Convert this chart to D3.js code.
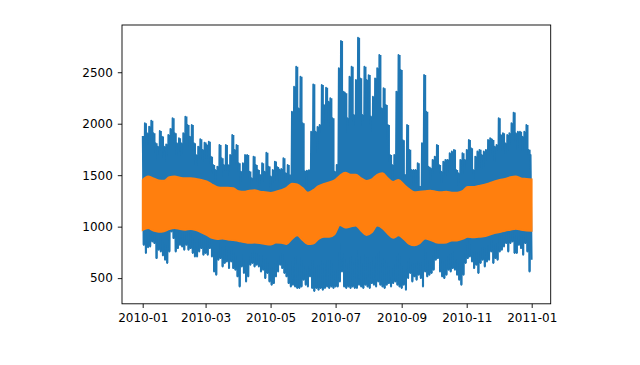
<html>
<script src='https://d3js.org/d3.v7.min.js'></script>
<style>
    body { margin: 0; background: white; }
    text { font-family: 'DejaVu Sans', sans-serif; }
</style>

<body>
    <div id="chart"></div>
    <script>
        const blueHigh = [
            1880, 2005, 1908, 1972, 2030, 1908, 1811, 1778, 1930, 1875,
            1778, 1800, 1891, 1950, 2053, 1908, 1811, 1859, 1811, 1908,
            2069, 1988, 1875, 1988, 1811, 1697, 1778, 1850, 1746, 1817,
            1794, 1826, 1680, 1600, 1551, 1584, 1794, 1665, 1600, 1794,
            1600, 1697, 1891, 1746, 1794, 1616, 1535, 1616, 1697, 1697,
            1535, 1471, 1681, 1600, 1551, 1503, 1616, 1535, 1719, 1584,
            1487, 1551, 1632, 1580, 1555, 1560, 1665, 1520, 1600, 1500,
            2117, 2360, 2554, 2150, 2457, 2005, 1540, 1545, 1550, 1923,
            2383, 1923, 1970, 1988, 2377, 2183, 2350, 2215, 2248, 2053,
            1535, 1600, 2539, 2804, 2312, 2296, 2053, 2457, 2554, 2085,
            2425, 2836, 2441, 2085, 2554, 2425, 2473, 2070, 2263, 2441,
            2539, 2668, 2150, 2345, 2183, 1988, 1697, 1600, 1697, 2312,
            2668, 2522, 1840, 1503, 1988, 1746, 1551, 1551, 1551, 1616,
            1389, 1811, 2474, 2117, 1583, 1567, 1649, 1681, 1794, 1600,
            1535, 1632, 1649, 1649, 1713, 1730, 1746, 1551, 1519, 1649,
            1713, 1649, 1746, 1843, 1762, 1551, 1681, 1730, 1746, 1697,
            1730, 1746, 1843, 1859, 1843, 1778, 1794, 2053, 1891, 1908,
            1811, 1891, 1908, 2005, 2108, 1908, 1923, 1923, 1875, 1923,
            1988, 1746, 1697
        ];
        const blueLow = [
            823, 743, 800, 807, 855, 840, 694, 775, 758, 720,
            678, 646, 758, 952, 888, 758, 791, 823, 807, 775,
            823, 775, 791, 743, 710, 710, 758, 791, 726, 743,
            726, 791, 710, 564, 532, 678, 694, 613, 646, 661,
            597, 661, 597, 581, 516, 418, 613, 549, 467, 516,
            629, 646, 613, 629, 613, 564, 581, 500, 549, 467,
            435, 451, 516, 564, 629, 597, 549, 516, 451, 418,
            435, 418, 403, 403, 418, 484, 435, 418, 516, 403,
            374, 403, 386, 403, 386, 403, 418, 403, 418, 403,
            418, 418, 467, 564, 418, 403, 418, 403, 418, 403,
            403, 435, 418, 403, 435, 418, 403, 451, 435, 418,
            467, 435, 418, 403, 435, 451, 418, 451, 467, 435,
            418, 403, 435, 386, 500, 549, 467, 516, 484, 532,
            500, 418, 564, 516, 532, 549, 581, 678, 694, 564,
            516, 500, 532, 581, 564, 597, 581, 532, 484, 435,
            532, 646, 694, 710, 661, 597, 629, 549, 646, 678,
            613, 661, 678, 758, 646, 694, 678, 758, 775, 807,
            840, 758, 840, 855, 743, 743, 823, 791, 726, 840,
            758, 564, 678
        ];
        // orange series (fitted daily cycle), edges of its band every 5 days from 2010-01-01
        const orangeUpper = [
            1455, 1488, 1470, 1450, 1447, 1480, 1487, 1475, 1470, 1471,
            1465, 1455, 1440, 1410, 1385, 1378, 1380, 1374, 1345, 1340,
            1350, 1355, 1340, 1335, 1328, 1340, 1355, 1378, 1418, 1410,
            1375, 1330, 1355, 1395, 1415, 1430, 1450, 1495, 1525, 1505,
            1505, 1470, 1445, 1460, 1505, 1520, 1470, 1435, 1455, 1410,
            1365, 1335, 1340, 1345, 1350, 1340, 1335, 1340, 1330, 1330,
            1345, 1385, 1385, 1395, 1405, 1420, 1440, 1455, 1465, 1480,
            1487, 1470, 1465, 1460
        ];
        const orangeLower = [
            968, 985, 960, 950, 955, 975, 985, 975, 970, 975,
            965, 945, 920, 890, 880, 885, 875, 870, 860, 850,
            842, 845, 840, 830, 825, 845, 842, 830, 880, 915,
            870, 830, 835, 880, 900, 900, 925, 1015, 990, 1000,
            1010, 960, 918, 945, 1010, 985, 930, 890, 915, 880,
            832, 818, 840, 885, 870, 848, 842, 845, 865, 865,
            880, 900, 895, 900, 905, 920, 937, 946, 960, 969,
            978, 970, 962, 960
        ];
        const yTicks = [500, 1000, 1500, 2000, 2500];

        const width = 640, height = 365;
        const boxLeft = 122, boxRight = 550.7, boxTop = 25, boxBottom = 303.8;
        const start = Date.UTC(2010, 0, 1);
        const dayMs = 864e5;
        const toDate = d => new Date(start + d * dayMs);

        const svg = d3.select("#chart").append("svg")
            .attr("width", width)
            .attr("height", height);

        const x = d3.scaleUtc()
            .domain([toDate(0), toDate(365)])
            .range([142.7, 531.7]);
        const y = d3.scaleLinear()
            .domain([250.5, 2959])
            .range([boxBottom, boxTop]);

        // blue: solid body between trough and peak of each step, then the zig-zag line on top
        const blueSteps = blueHigh.map((v, i) => ({ day: i * 2, hi: v, lo: blueLow[i] }));
        const blueBody = d3.area()
            .x(d => x(toDate(d.day)))
            .y0(d => y(d.lo))
            .y1(d => y(d.hi))
            .curve(d3.curveStepAfter);
        svg.append("path")
            .datum(blueSteps)
            .attr("fill", "#1f77b4")
            .attr("d", blueBody);

        const bluePoints = [];
        blueSteps.forEach(d => {
            bluePoints.push([d.day, d.hi]);
            bluePoints.push([d.day + 1, d.lo]);
        });
        const line = d3.line()
            .x(d => x(toDate(d[0])))
            .y(d => y(d[1]));
        svg.append("path")
            .datum(bluePoints)
            .attr("fill", "none")
            .attr("stroke", "#1f77b4")
            .attr("stroke-width", 1.8)
            .attr("stroke-linejoin", "round")
            .attr("d", line);

        // orange band
        const orangeData = orangeUpper.map((v, i) => ({ day: i * 5, hi: v, lo: orangeLower[i] }));
        const area = d3.area()
            .x(d => x(toDate(d.day)))
            .y0(d => y(d.lo))
            .y1(d => y(d.hi))
            .curve(d3.curveMonotoneX);
        svg.append("path")
            .datum(orangeData)
            .attr("fill", "#ff7f0e")
            .attr("stroke", "#ff7f0e")
            .attr("stroke-width", 1.8)
            .attr("d", area);

        // axes
        const xAxis = svg.append("g")
            .attr("transform", `translate(0,${boxBottom})`)
            .call(d3.axisBottom(x)
                .ticks(d3.utcMonth.every(2))
                .tickFormat(d3.utcFormat("%Y-%m"))
                .tickSize(4.2)
                .tickPadding(5));
        const yAxis = svg.append("g")
            .attr("transform", `translate(${boxLeft},0)`)
            .call(d3.axisLeft(y)
                .tickValues(yTicks)
                .tickFormat(d3.format("d"))
                .tickSize(4.2)
                .tickPadding(5));
        [xAxis, yAxis].forEach(g => {
            g.select(".domain").remove();
            g.attr("font-size", 12).attr("font-family", "DejaVu Sans");
            g.selectAll("line").attr("stroke", "#000").attr("stroke-width", 0.9);
            g.selectAll("text").attr("fill", "#000");
        });

        // frame
        svg.append("rect")
            .attr("x", boxLeft)
            .attr("y", boxTop)
            .attr("width", boxRight - boxLeft)
            .attr("height", boxBottom - boxTop)
            .attr("fill", "none")
            .attr("stroke", "#000")
            .attr("stroke-width", 0.9);
    </script>
</body>

</html>
